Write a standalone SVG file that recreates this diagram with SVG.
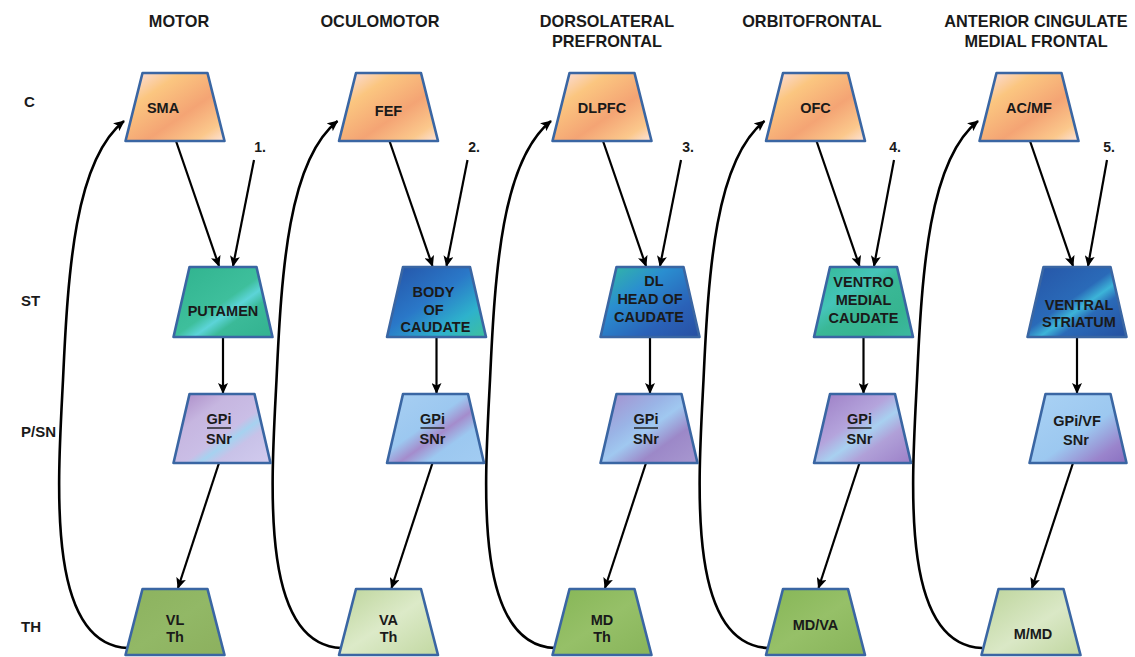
<svg xmlns="http://www.w3.org/2000/svg" xmlns:xlink="http://www.w3.org/1999/xlink" width="1135" height="657" viewBox="0 0 1135 657">
<style>
text{font-family:"Liberation Sans",Arial,sans-serif;font-weight:bold;fill:#1a1a1a}
.hd{font-size:16.3px;text-anchor:middle}
.rl{font-size:15px}
.nl{font-size:14.5px;text-anchor:middle}
.num{font-size:14px;text-anchor:middle}
.tz{stroke:#3a66a3;stroke-width:2.6;stroke-linejoin:round}
.ln{fill:none;stroke:#000;stroke-width:2.2}
.lp{fill:none;stroke:#000;stroke-width:2.6}
.ul{stroke:#1a1a1a;stroke-width:1.4}
</style>
<defs>
<marker id="ah" markerUnits="userSpaceOnUse" markerWidth="11" markerHeight="10" refX="10" refY="5" orient="auto"><path d="M0,0 L11,5 L0,10 L2.5,5 Z" fill="#000"/></marker>
<path id="tC" d="M-32.5,73 L32.5,73 L49.5,141 L-49.5,141 Z"/>
<path id="tS" d="M-33.5,267 L33.5,267 L49.5,337 L-49.5,337 Z"/>
<path id="tP" d="M-32.5,394 L32.5,394 L48.5,463 L-48.5,463 Z"/>
<path id="tT" d="M-32.5,589 L32.5,589 L49.5,655 L-49.5,655 Z"/>
<linearGradient id="gC" x1="0" y1="0" x2="1" y2="1"><stop offset="0" stop-color="#fbe2f0"/><stop offset="0.28" stop-color="#fbc680"/><stop offset="0.6" stop-color="#f4a474"/><stop offset="0.85" stop-color="#fbc88c"/><stop offset="1" stop-color="#fde4dc"/></linearGradient>
<linearGradient id="gS1" x1="0" y1="0" x2="1" y2="1"><stop offset="0" stop-color="#30b38e"/><stop offset="0.5" stop-color="#3ebf9c"/><stop offset="0.6" stop-color="#5cd4d8"/><stop offset="0.7" stop-color="#3bba98"/><stop offset="1" stop-color="#32b290"/></linearGradient>
<linearGradient id="gS2" x1="0" y1="0" x2="1" y2="1"><stop offset="0" stop-color="#2552a6"/><stop offset="0.45" stop-color="#2a78c8"/><stop offset="0.75" stop-color="#2eb2cc"/><stop offset="1" stop-color="#3ec09c"/></linearGradient>
<linearGradient id="gS3" x1="0" y1="0" x2="1" y2="1"><stop offset="0" stop-color="#34bca0"/><stop offset="0.35" stop-color="#2a8ed0"/><stop offset="0.7" stop-color="#2a62b8"/><stop offset="1" stop-color="#2850a2"/></linearGradient>
<linearGradient id="gS4" x1="0" y1="0" x2="1" y2="1"><stop offset="0" stop-color="#34b894"/><stop offset="0.35" stop-color="#44c4b8"/><stop offset="0.5" stop-color="#3ab896"/><stop offset="0.75" stop-color="#36b490"/><stop offset="1" stop-color="#3cb8a0"/></linearGradient>
<linearGradient id="gS5" x1="0" y1="0" x2="1" y2="1"><stop offset="0" stop-color="#2654a6"/><stop offset="0.45" stop-color="#2a6ab8"/><stop offset="0.56" stop-color="#3cb4d8"/><stop offset="0.66" stop-color="#2a6ab8"/><stop offset="1" stop-color="#2550a0"/></linearGradient>
<linearGradient id="gP1" x1="0" y1="0" x2="1" y2="1"><stop offset="0" stop-color="#a886c4"/><stop offset="0.3" stop-color="#c6b6e0"/><stop offset="0.55" stop-color="#cabee6"/><stop offset="0.63" stop-color="#a6d2f0"/><stop offset="0.72" stop-color="#c8c2e8"/><stop offset="1" stop-color="#d2cbee"/></linearGradient>
<linearGradient id="gP2" x1="0" y1="0" x2="1" y2="1"><stop offset="0" stop-color="#a8cff2"/><stop offset="0.42" stop-color="#9cc8f0"/><stop offset="0.56" stop-color="#a48ccc"/><stop offset="0.7" stop-color="#9cc8f0"/><stop offset="1" stop-color="#a2ccf2"/></linearGradient>
<linearGradient id="gP3" x1="0" y1="0" x2="1" y2="1"><stop offset="0" stop-color="#a68ccc"/><stop offset="0.35" stop-color="#9ab4e6"/><stop offset="0.5" stop-color="#a0c8f0"/><stop offset="0.7" stop-color="#9c88c8"/><stop offset="1" stop-color="#a898d0"/></linearGradient>
<linearGradient id="gP4" x1="0" y1="0" x2="1" y2="1"><stop offset="0" stop-color="#9c7cc4"/><stop offset="0.4" stop-color="#b4a4dc"/><stop offset="0.55" stop-color="#a8d0f0"/><stop offset="0.7" stop-color="#b0a0d8"/><stop offset="1" stop-color="#9c80c8"/></linearGradient>
<linearGradient id="gP5" x1="0" y1="0" x2="1" y2="1"><stop offset="0" stop-color="#aad2f4"/><stop offset="0.55" stop-color="#9cc8f0"/><stop offset="0.82" stop-color="#9a84cc"/><stop offset="1" stop-color="#8a70c0"/></linearGradient>
<linearGradient id="gT1" x1="0" y1="0" x2="1" y2="1"><stop offset="0" stop-color="#8cb25e"/><stop offset="0.5" stop-color="#92b866"/><stop offset="1" stop-color="#8cb05e"/></linearGradient>
<linearGradient id="gT2" x1="0" y1="0" x2="1" y2="1"><stop offset="0" stop-color="#bcd49a"/><stop offset="0.5" stop-color="#dceac8"/><stop offset="1" stop-color="#c2d8a2"/></linearGradient>
<linearGradient id="gT3" x1="0" y1="0" x2="1" y2="1"><stop offset="0" stop-color="#86b656"/><stop offset="0.5" stop-color="#96c068"/><stop offset="1" stop-color="#88b45a"/></linearGradient>
<linearGradient id="gT5" x1="0" y1="0" x2="1" y2="1"><stop offset="0" stop-color="#bcd49a"/><stop offset="0.55" stop-color="#dae8c6"/><stop offset="1" stop-color="#c0d6a0"/></linearGradient>
</defs>

<g id="headers">
<text class="hd" x="179" y="27">MOTOR</text>
<text class="hd" x="380" y="27">OCULOMOTOR</text>
<text class="hd" x="607" y="27">DORSOLATERAL</text>
<text class="hd" x="607" y="47">PREFRONTAL</text>
<text class="hd" x="812" y="27">ORBITOFRONTAL</text>
<text class="hd" x="1036" y="27">ANTERIOR CINGULATE</text>
<text class="hd" x="1036" y="47">MEDIAL FRONTAL</text>
</g>

<g id="row-labels">
<text class="rl" x="24" y="107">C</text>
<text class="rl" x="21" y="306">ST</text>
<text class="rl" x="21" y="437">P/SN</text>
<text class="rl" x="21" y="632">TH</text>
</g>

<g id="numbers">
<text class="num" x="260" y="152">1.</text>
<text class="num" x="474" y="152">2.</text>
<text class="num" x="688" y="152">3.</text>
<text class="num" x="895" y="152">4.</text>
<text class="num" x="1109" y="152">5.</text>
</g>

<g id="connectors">
<!-- column 1 -->
<path class="ln" marker-end="url(#ah)" d="M176,141 L219,266"/>
<path class="ln" marker-end="url(#ah)" d="M254,160 L233,266"/>
<path class="ln" marker-end="url(#ah)" d="M223,337 L223,393"/>
<path class="ln" marker-end="url(#ah)" d="M219,463 L178,588"/>
<path class="lp" marker-end="url(#ah)" d="M128,648 C45,645 58,480 63,380 C68,270 75,160 124,121"/>
<!-- column 2 -->
<path class="ln" marker-end="url(#ah)" d="M389.5,141 L432.5,266"/>
<path class="ln" marker-end="url(#ah)" d="M467.5,160 L446.5,266"/>
<path class="ln" marker-end="url(#ah)" d="M436.5,337 L436.5,393"/>
<path class="ln" marker-end="url(#ah)" d="M432.5,463 L391.5,588"/>
<path class="lp" marker-end="url(#ah)" d="M341.5,648 C258.5,645 271.5,480 276.5,380 C281.5,270 288.5,160 337.5,121"/>
<!-- column 3 -->
<path class="ln" marker-end="url(#ah)" d="M603,141 L646,266"/>
<path class="ln" marker-end="url(#ah)" d="M681,160 L660,266"/>
<path class="ln" marker-end="url(#ah)" d="M650,337 L650,393"/>
<path class="ln" marker-end="url(#ah)" d="M646,463 L605,588"/>
<path class="lp" marker-end="url(#ah)" d="M555,648 C472,645 485,480 490,380 C495,270 502,160 551,121"/>
<!-- column 4 -->
<path class="ln" marker-end="url(#ah)" d="M816.5,141 L859.5,266"/>
<path class="ln" marker-end="url(#ah)" d="M894,160 L874,266"/>
<path class="ln" marker-end="url(#ah)" d="M863.5,337 L863.5,393"/>
<path class="ln" marker-end="url(#ah)" d="M859.5,463 L818.5,588"/>
<path class="lp" marker-end="url(#ah)" d="M768.5,648 C685.5,645 698.5,480 703.5,380 C708.5,270 715.5,160 764.5,121"/>
<!-- column 5 -->
<path class="ln" marker-end="url(#ah)" d="M1030,141 L1073,266"/>
<path class="ln" marker-end="url(#ah)" d="M1107,160 L1088,266"/>
<path class="ln" marker-end="url(#ah)" d="M1077,337 L1077,393"/>
<path class="ln" marker-end="url(#ah)" d="M1073,463 L1032,588"/>
<path class="lp" marker-end="url(#ah)" d="M982,648 C899,645 912,480 917,380 C922,270 929,160 978,121"/>
</g>

<!-- Column 1 -->
<g id="sma" transform="translate(175,0)"><use xlink:href="#tC" class="tz" fill="url(#gC)"/><text class="nl" x="-12" y="113">SMA</text></g>
<g id="putamen" transform="translate(223,0)"><use xlink:href="#tS" class="tz" fill="url(#gS1)"/><text class="nl" x="0" y="316">PUTAMEN</text></g>
<g id="gpi1" transform="translate(222,0)"><use xlink:href="#tP" class="tz" fill="url(#gP1)"/><text class="nl" x="-3" y="424">GPi</text><line class="ul" x1="-15" y1="428" x2="9" y2="428"/><text class="nl" x="-3" y="444">SNr</text></g>
<g id="vl" transform="translate(175,0)"><use xlink:href="#tT" class="tz" fill="url(#gT1)"/><text class="nl" x="0" y="625">VL</text><text class="nl" x="0" y="642">Th</text></g>

<!-- Column 2 -->
<g id="fef" transform="translate(388.5,0)"><use xlink:href="#tC" class="tz" fill="url(#gC)"/><text class="nl" x="0" y="116">FEF</text></g>
<g id="body-caudate" transform="translate(436.5,0)"><use xlink:href="#tS" class="tz" fill="url(#gS2)"/><text class="nl" x="-3" y="297">BODY</text><text class="nl" x="-3" y="314.5">OF</text><text class="nl" x="-1" y="332">CAUDATE</text></g>
<g id="gpi2" transform="translate(435.5,0)"><use xlink:href="#tP" class="tz" fill="url(#gP2)"/><text class="nl" x="-3" y="424">GPi</text><line class="ul" x1="-15" y1="428" x2="9" y2="428"/><text class="nl" x="-3" y="444">SNr</text></g>
<g id="va" transform="translate(388.5,0)"><use xlink:href="#tT" class="tz" fill="url(#gT2)"/><text class="nl" x="0" y="625">VA</text><text class="nl" x="0" y="642">Th</text></g>

<!-- Column 3 -->
<g id="dlpfc" transform="translate(602,0)"><use xlink:href="#tC" class="tz" fill="url(#gC)"/><text class="nl" x="0" y="113">DLPFC</text></g>
<g id="dl-head-caudate" transform="translate(650,0)"><use xlink:href="#tS" class="tz" fill="url(#gS3)"/><text class="nl" x="4" y="286">DL</text><text class="nl" x="0" y="304">HEAD OF</text><text class="nl" x="-1" y="322">CAUDATE</text></g>
<g id="gpi3" transform="translate(649,0)"><use xlink:href="#tP" class="tz" fill="url(#gP3)"/><text class="nl" x="-3" y="424">GPi</text><line class="ul" x1="-15" y1="428" x2="9" y2="428"/><text class="nl" x="-3" y="444">SNr</text></g>
<g id="md-th" transform="translate(602,0)"><use xlink:href="#tT" class="tz" fill="url(#gT3)"/><text class="nl" x="0" y="625">MD</text><text class="nl" x="0" y="642">Th</text></g>

<!-- Column 4 -->
<g id="ofc" transform="translate(815.5,0)"><use xlink:href="#tC" class="tz" fill="url(#gC)"/><text class="nl" x="0" y="113">OFC</text></g>
<g id="ventromedial-caudate" transform="translate(863.5,0)"><use xlink:href="#tS" class="tz" fill="url(#gS4)"/><text class="nl" x="0" y="287">VENTRO</text><text class="nl" x="0" y="305">MEDIAL</text><text class="nl" x="0" y="323">CAUDATE</text></g>
<g id="gpi4" transform="translate(862.5,0)"><use xlink:href="#tP" class="tz" fill="url(#gP4)"/><text class="nl" x="-3" y="424">GPi</text><line class="ul" x1="-15" y1="428" x2="9" y2="428"/><text class="nl" x="-3" y="444">SNr</text></g>
<g id="md-va" transform="translate(815.5,0)"><use xlink:href="#tT" class="tz" fill="url(#gT3)"/><text class="nl" x="0" y="630">MD/VA</text></g>

<!-- Column 5 -->
<g id="ac-mf" transform="translate(1029,0)"><use xlink:href="#tC" class="tz" fill="url(#gC)"/><text class="nl" x="0" y="113">AC/MF</text></g>
<g id="ventral-striatum" transform="translate(1077,0)"><use xlink:href="#tS" class="tz" fill="url(#gS5)"/><text class="nl" x="2" y="310">VENTRAL</text><text class="nl" x="2" y="327">STRIATUM</text></g>
<g id="gpi-vf" transform="translate(1078,0)"><use xlink:href="#tP" class="tz" fill="url(#gP5)"/><text class="nl" x="-1" y="426">GPi/VF</text><text class="nl" x="-2" y="445">SNr</text></g>
<g id="m-md" transform="translate(1031,0)"><use xlink:href="#tT" class="tz" fill="url(#gT5)"/><text class="nl" x="2" y="639">M/MD</text></g>
</svg>
